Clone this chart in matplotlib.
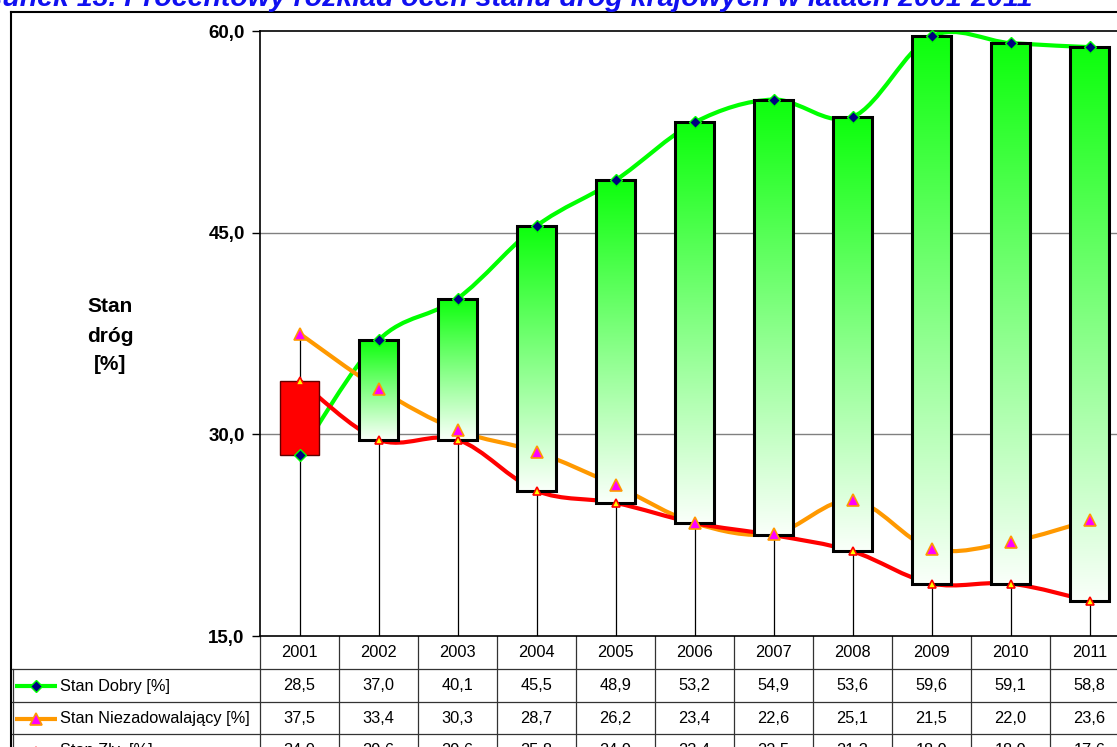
import numpy as np
import matplotlib
matplotlib.use('Agg')
import matplotlib.pyplot as plt
from matplotlib.path import Path
from matplotlib.patches import PathPatch, Rectangle
import matplotlib.transforms as mtrans

plt.rcParams['font.family'] = ['Liberation Sans', 'DejaVu Sans']

# ---- data ----
years = ['2001', '2002', '2003', '2004', '2005', '2006', '2007', '2008', '2009', '2010', '2011']
dobry = [28.5, 37.0, 40.1, 45.5, 48.9, 53.2, 54.9, 53.6, 59.6, 59.1, 58.8]
niezad = [37.5, 33.4, 30.3, 28.7, 26.2, 23.4, 22.6, 25.1, 21.5, 22.0, 23.6]
zly = [34.0, 29.6, 29.6, 25.8, 24.9, 23.4, 22.5, 21.3, 18.9, 18.9, 17.6]
series_names = ['Stan Dobry [%]', 'Stan Niezadowalający [%]', 'Stan Zły  [%]']
yticks = [15, 30, 45, 60]
ytick_labels = ['15,0', '30,0', '45,0', '60,0']
title = 'Rysunek 13. Procentowy rozkład ocen stanu dróg krajowych w latach 2001-2011'
ylabel_lines = ['Stan', 'dróg', '[%]']

W, H = 1117, 747
fig = plt.figure(figsize=(W / 100, H / 100), dpi=100)
fig.patch.set_facecolor('white')

# overlay axes in pixel coordinates
ov = fig.add_axes([0, 0, 1, 1])
ov.set_xlim(0, W)
ov.set_ylim(H, 0)
ov.axis('off')

# main plot axes
L, R, T, B = 260, 1129, 31, 636
ax = fig.add_axes([L / W, (H - B) / H, (R - L) / W, (B - T) / H])
ax.set_facecolor('white')

x = np.arange(len(years))


def smooth_path(xs, ys):
    pts = np.column_stack([xs, ys]).astype(float)
    n = len(pts)
    verts = [pts[0]]
    codes = [Path.MOVETO]
    for i in range(n - 1):
        p0 = pts[i - 1] if i > 0 else pts[i]
        p1 = pts[i]
        p2 = pts[i + 1]
        p3 = pts[i + 2] if i + 2 < n else pts[i + 1]
        c1 = p1 + (p2 - p0) / 6.0
        c2 = p2 - (p3 - p1) / 6.0
        verts += [c1, c2, p2]
        codes += [Path.CURVE4] * 3
    return Path(verts, codes)


# gridlines
for yv in yticks[1:-1]:
    ax.axhline(yv, color='#808080', lw=1, zorder=0.5)

# drop lines
for i in x:
    top = max(dobry[i], niezad[i], zly[i])
    ax.vlines(i, 15, top, color='black', lw=0.9, zorder=1)

# smoothed lines
line_cols = ['#00FF00', '#FF9900', '#FF0000']
for vals, col in zip([dobry, niezad, zly], line_cols):
    ax.add_patch(PathPatch(smooth_path(x, vals), fill=False, edgecolor=col,
                           lw=3.0, zorder=2, capstyle='round', joinstyle='round'))

# up/down bars
bw = 0.49
grad = np.ones((256, 1, 3))
t = np.linspace(0, 1, 256)[:, None]
top_c = np.array([0.05, 1.0, 0.05])
bot_c = np.array([0.98, 1.0, 0.98])
grad[:, 0, :] = top_c * (1 - t) + bot_c * t
for i in x:
    lo = min(dobry[i], zly[i])
    hi = max(dobry[i], zly[i])
    if zly[i] > dobry[i]:
        ax.add_patch(Rectangle((i - bw / 2, lo), bw, hi - lo, facecolor='#FF0000',
                               edgecolor='#600000', lw=1.0, zorder=3))
    else:
        ax.imshow(grad, extent=[i - bw / 2, i + bw / 2, lo, hi], aspect='auto',
                  origin='upper', zorder=3, interpolation='bilinear')
        ax.add_patch(Rectangle((i - bw / 2, lo), bw, hi - lo, facecolor='none',
                               edgecolor='black', lw=2.2, zorder=4))

# markers
mk_dobry = dict(marker='D', ms=6.5, mfc='#000080', mec='#00FF00', mew=1.0)
mk_niez = dict(marker='^', ms=9.0, mfc='#FF00FF', mec='#FF9900', mew=1.2)
mk_zly = dict(marker='^', ms=6.0, mfc='#FFFF00', mec='#FF0000', mew=1.2)
ax.plot(x, zly, ls='none', zorder=6, clip_on=False, **mk_zly)
ax.plot(x, niezad, ls='none', zorder=6, clip_on=False, **mk_niez)
ax.plot(x, dobry, ls='none', zorder=7, clip_on=False, **mk_dobry)

ax.set_xlim(-0.5, 10.5)
ax.set_ylim(15, 60)
ax.set_xticks([])
ax.set_yticks(yticks)
ax.set_yticklabels(ytick_labels, fontsize=13.5, fontweight='bold')
ax.tick_params(axis='y', direction='out', length=6, width=1, pad=5, color='black')
for s in ['top', 'left', 'bottom']:
    ax.spines[s].set_color('black')
    ax.spines[s].set_linewidth(1.2)
ax.spines['right'].set_visible(False)

# y label
for ytxt, line in zip([306, 336, 365], ylabel_lines):
    ov.text(110, ytxt, line, ha='center', va='center', fontsize=15,
            fontweight='bold', color='black')

# title (partly cut off at top)
ov.text(1032, 6.5, title, ha='right', va='baseline', fontsize=20.5,
        fontweight='bold', fontstyle='italic', color='#1010F0')

# outer frame
ov.plot([11, 11], [12, H + 5], color='black', lw=1.5, clip_on=False)
ov.plot([11, W + 5], [12, 12], color='black', lw=1.5, clip_on=False)

# data table
tr = mtrans.blended_transform_factory(ax.transData, ov.transData)
row_bounds = [636, 669, 702, 734, 766]
for i in range(len(years) + 1):
    ov.plot([i - 0.5, i - 0.5], [636, H + 5], color='#333333', lw=0.9,
            transform=tr, clip_on=False)
for yb in row_bounds[1:4]:
    ov.plot([12, W + 5], [yb, yb], color='#333333', lw=0.9, clip_on=False)
ov.plot([13, 13], [669, H + 5], color='#333333', lw=0.9, clip_on=False)

tfs = 11.8
hdr_y = (row_bounds[0] + row_bounds[1]) / 2
for i, yr in enumerate(years):
    ov.text(i, hdr_y, yr, ha='center', va='center', fontsize=tfs, transform=tr)

rows = [dobry, niezad, zly]
line_kw = [dict(color='#00FF00'), dict(color='#FF9900'), dict(color='#FF0000')]
mk_list = [mk_dobry, mk_niez, mk_zly]
for r, (vals, name) in enumerate(zip(rows, series_names)):
    yc = (row_bounds[r + 1] + row_bounds[r + 2]) / 2 + 0.5
    for i, v in enumerate(vals):
        ov.text(i, yc, f'{v:.1f}'.replace('.', ','), ha='center', va='center',
                fontsize=tfs, transform=tr)
    ov.plot([15, 57], [yc, yc], lw=3.0, **line_kw[r], solid_capstyle='butt')
    ov.plot([36], [yc], ls='none', **mk_list[r])
    ov.text(60, yc, name, ha='left', va='center', fontsize=tfs)

fig.savefig('out.png', dpi=100, facecolor='white')
